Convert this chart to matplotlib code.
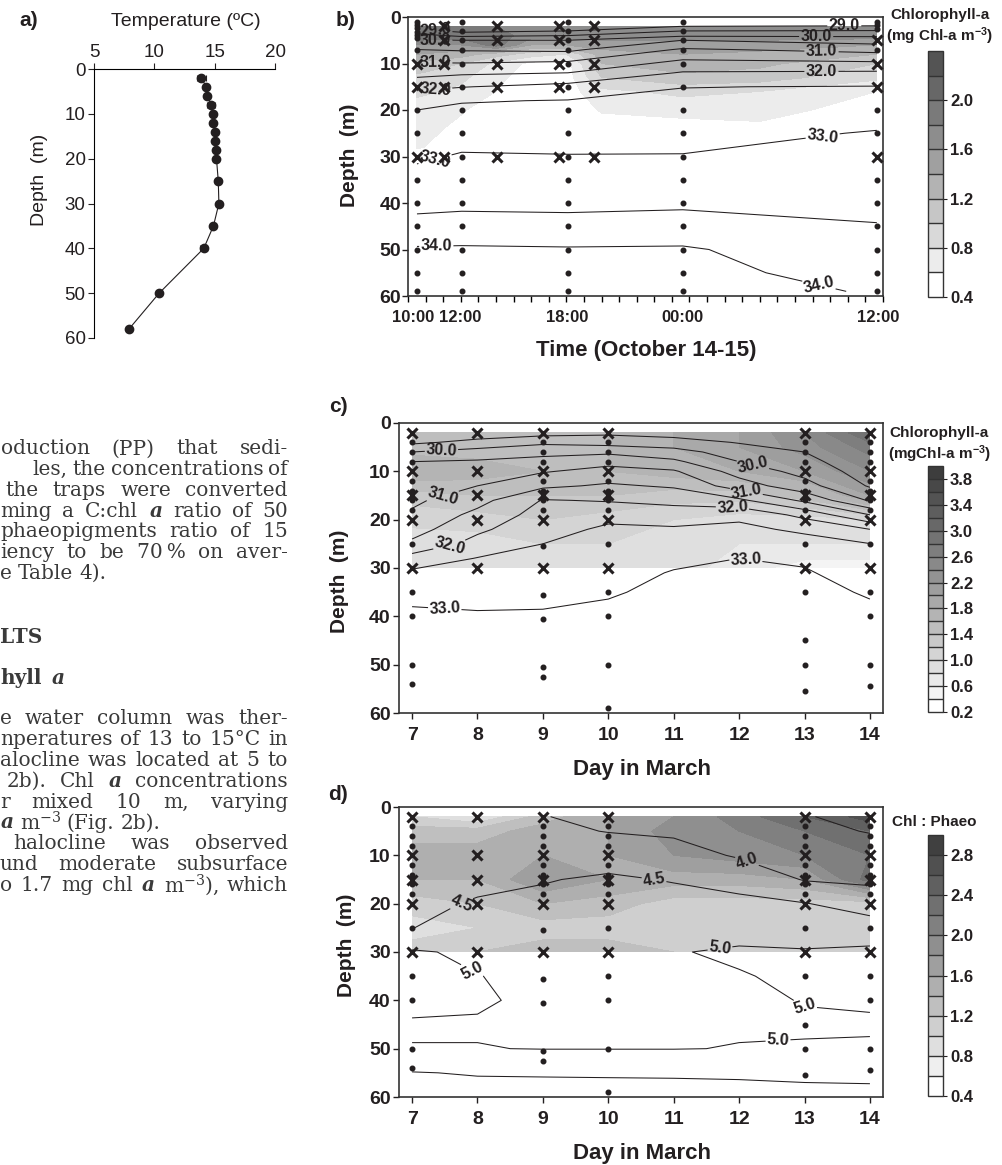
import numpy as np
import matplotlib
matplotlib.use('Agg')
import matplotlib.pyplot as plt

plt.rcParams['font.family'] = ['Liberation Sans', 'DejaVu Sans']
plt.rcParams['font.weight'] = 'bold'
plt.rcParams['axes.labelweight'] = 'bold'
plt.rcParams['mathtext.fontset'] = 'custom'
plt.rcParams['mathtext.default'] = 'regular'
plt.rcParams['mathtext.it'] = 'DejaVu Serif:italic'

# ---------------- a) temperature profile
temp_depth = [2, 4, 6, 8, 10, 12, 14, 16, 18, 20, 25, 30, 35, 40, 50, 58]
temp_mean = [13.9, 14.3, 14.4, 14.7, 14.85, 14.9, 15.0, 15.0, 15.15, 15.15, 15.3, 15.35, 14.9, 14.1, 10.4, 7.9]
temp_err = [0.35, 0.1, 0.2, 0.3, 0.15, 0.1, 0.1, 0.1, 0.1, 0.1, 0.1, 0.15, 0.2, 0.3, 0.15, 0.2]

# ---------------- b) diel station, hours after 09:00 Oct 14
b_grid_time = [0.5, 3.0, 5.0, 7.0, 9.0, 11.0, 15.6, 20.0, 26.65]
b_grid_depth = [2, 4, 6, 8, 10, 13, 16, 20, 24, 28, 30]
b_chl = [
    [2.0, 1.8, 1.8, 1.75, 1.75, 1.75, 1.75, 1.75, 1.8],
    [2.0, 1.9, 1.9, 1.7, 1.7, 1.7, 1.7, 1.7, 1.7],
    [1.6, 1.6, 1.9, 1.4, 1.4, 1.5, 1.5, 1.5, 1.4],
    [1.4, 1.3, 1.1, 0.9, 0.8, 1.3, 1.4, 1.35, 1.2],
    [1.15, 1.0, 0.75, 0.55, 0.5, 1.2, 1.3, 1.25, 1.0],
    [0.95, 0.85, 0.65, 0.5, 0.5, 1.0, 1.15, 1.1, 0.85],
    [0.85, 0.75, 0.6, 0.5, 0.5, 0.75, 0.85, 0.8, 0.6],
    [0.7, 0.62, 0.5, 0.45, 0.45, 0.62, 0.68, 0.68, 0.5],
    [0.68, 0.55, 0.45, 0.45, 0.45, 0.5, 0.5, 0.55, 0.45],
    [0.62, 0.5, 0.45, 0.45, 0.45, 0.45, 0.45, 0.45, 0.45],
    [0.5, 0.45, 0.45, 0.45, 0.45, 0.45, 0.45, 0.45, 0.45],
]
b_sal_time = [0.51, 3.05, 9.09, 15.62, 26.65]
b_sal_depth = [1, 2, 3, 4, 5, 7, 10, 12, 15, 18, 20, 25, 30, 35, 40, 45, 50, 55, 59]
b_sal = [
    [28.5, 28.4, 28.4, 28.6, 28.6],
    [28.8, 28.6, 28.7, 29.0, 29.05],
    [29.2, 28.85, 29.0, 29.5, 29.54],
    [29.7, 29.38, 29.5, 29.92, 29.92],
    [30.05, 30.0, 30.0, 30.5, 30.27],
    [30.5, 30.45, 30.4, 31.06, 30.83],
    [31.03, 31.02, 31.1, 31.66, 31.6],
    [31.31, 31.42, 31.5, 32.04, 32.08],
    [31.89, 31.98, 32.16, 32.49, 32.52],
    [32.28, 32.47, 32.52, 32.6, 32.72],
    [32.5, 32.58, 32.6, 32.67, 32.79],
    [32.72, 32.82, 32.81, 32.85, 33.03],
    [32.93, 33.04, 33.02, 33.02, 33.15],
    [33.15, 33.21, 33.2, 33.21, 33.27],
    [33.35, 33.39, 33.38, 33.41, 33.39],
    [33.67, 33.7, 33.67, 33.72, 33.52],
    [34.05, 34.06, 34.04, 34.05, 33.68],
    [34.15, 34.12, 34.12, 34.12, 33.84],
    [34.2, 34.16, 34.16, 34.16, 33.97],
]
b_ctd_time = [0.51, 3.05, 9.09, 15.62, 26.65]
b_ctd_depths = [
    [1, 1.7, 2.4, 3.2, 3.9, 4.6, 7, 20, 25, 35, 40, 45, 50, 55, 59],
    [1, 3, 5, 7, 10, 15, 20, 25, 30, 35, 40, 45, 50, 55, 59],
    [1, 3, 5, 7, 10, 15, 20, 25, 30, 35, 40, 45, 50, 55, 59],
    [1, 3, 5, 7, 10, 15, 20, 25, 30, 35, 40, 45, 50, 55, 59],
    [1, 1.8, 2.5, 7, 20, 25, 35, 40, 45, 50, 55, 59],
]
b_trap_time = [0.51, 2.04, 5.05, 8.57, 10.57, 26.65]
b_trap_depths = [
    [10, 15, 30],
    [2, 5, 10, 15, 30],
    [2, 5, 10, 15, 30],
    [2, 5, 10, 15, 30],
    [2, 5, 10, 15, 30],
    [5, 10, 15, 30],
]
b_tick_pos = [0.28, 2.95, 9.05, 15.6, 26.7]
b_tick_lab = ['10:00', '12:00', '18:00', '00:00', '12:00']

# ---------------- c), d) March survey
cd_grid_day = [7, 8, 9, 10, 11, 12, 13, 14]
cd_fill_depth = [2, 5, 10, 15, 20, 25, 30]
c_chl = [
    [1.4, 1.4, 1.5, 1.6, 1.8, 2.0, 2.4, 3.0],
    [1.5, 1.5, 1.6, 1.6, 1.8, 2.0, 2.3, 2.7],
    [1.8, 1.7, 1.6, 1.6, 1.7, 1.8, 2.0, 2.4],
    [1.3, 1.4, 1.4, 1.4, 1.3, 1.3, 1.5, 2.0],
    [1.05, 1.1, 1.2, 1.1, 1.0, 0.9, 0.9, 1.0],
    [0.9, 0.9, 1.0, 1.0, 0.9, 0.8, 0.8, 0.8],
    [0.8, 0.9, 1.0, 1.0, 0.9, 0.7, 0.5, 0.5],
]
d_ratio = [
    [1.0, 0.8, 1.3, 1.6, 1.8, 2.1, 2.4, 2.7],
    [1.3, 1.3, 1.5, 1.6, 1.9, 2.0, 2.2, 2.4],
    [1.5, 1.5, 1.6, 1.6, 1.8, 1.9, 2.0, 2.2],
    [1.4, 1.4, 1.8, 1.6, 1.5, 1.5, 1.6, 2.3],
    [1.1, 1.2, 1.4, 1.3, 1.1, 1.1, 1.1, 1.1],
    [0.9, 1.0, 1.1, 1.1, 1.0, 1.0, 1.0, 1.0],
    [1.1, 1.2, 1.3, 1.3, 1.2, 1.1, 1.1, 1.1],
]
c_sal_depth = [2, 4, 6, 8, 10, 13, 16, 19, 22, 25, 28, 31, 35, 40, 45, 50, 55, 58]
c_sal = [
    [29.2, 29.2, 29.3, 29.4, 29.3, 29.2, 29.1, 28.8],
    [29.4, 29.65, 29.9, 29.8, 29.7, 29.47, 29.3, 28.9],
    [30.0, 30.2, 30.35, 30.4, 30.2, 29.75, 29.5, 29.0],
    [30.5, 30.56, 30.67, 30.85, 30.6, 30.0, 29.67, 29.1],
    [30.6, 30.75, 30.96, 31.17, 31.06, 30.29, 29.84, 29.25],
    [30.75, 31.0, 31.4, 31.57, 31.44, 30.75, 30.18, 29.45],
    [30.9, 31.33, 32.03, 31.96, 31.86, 31.6, 30.9, 29.94],
    [31.08, 31.64, 32.2, 32.38, 32.25, 32.4, 31.85, 31.0],
    [31.3, 31.9, 32.35, 32.57, 32.56, 32.6, 32.42, 32.0],
    [31.6, 32.18, 32.5, 32.68, 32.72, 32.79, 32.67, 32.51],
    [32.2, 32.52, 32.6, 32.78, 32.89, 33.0, 32.92, 32.65],
    [32.6, 32.67, 32.73, 32.82, 33.03, 33.08, 33.05, 32.76],
    [32.85, 32.84, 32.88, 32.96, 33.1, 33.12, 33.12, 32.96],
    [33.1, 33.05, 33.05, 33.1, 33.15, 33.16, 33.17, 33.1],
    [33.2, 33.15, 33.15, 33.2, 33.2, 33.2, 33.2, 33.2],
    [33.25, 33.25, 33.25, 33.25, 33.25, 33.25, 33.25, 33.25],
    [33.3, 33.3, 33.3, 33.3, 33.3, 33.3, 33.3, 33.3],
    [33.35, 33.35, 33.35, 33.35, 33.35, 33.35, 33.35, 33.35],
]
d_temp_depth = [2, 5, 10, 15, 20, 25, 30, 35, 40, 45, 50, 55, 58]
d_temp = [
    [4.30, 4.25, 4.02, 3.85, 3.80, 3.60, 3.52, 3.40],
    [4.32, 4.28, 4.12, 3.98, 3.92, 3.75, 3.60, 3.48],
    [4.35, 4.33, 4.30, 4.35, 4.20, 3.95, 3.80, 3.70],
    [4.38, 4.42, 4.48, 4.55, 4.48, 4.35, 3.97, 3.90],
    [4.42, 4.53, 4.58, 4.65, 4.62, 4.60, 4.52, 4.30],
    [4.49, 4.75, 4.72, 4.75, 4.80, 4.85, 4.80, 4.70],
    [5.05, 4.92, 4.85, 4.85, 4.98, 5.05, 5.03, 5.10],
    [5.12, 5.01, 4.90, 4.92, 4.97, 4.98, 5.06, 5.06],
    [5.08, 5.04, 4.93, 4.94, 4.95, 4.95, 5.01, 5.03],
    [4.97, 4.97, 4.96, 4.96, 4.96, 4.97, 4.97, 4.97],
    [5.01, 5.01, 4.99, 4.99, 4.99, 5.01, 5.02, 5.03],
    [5.52, 5.47, 5.46, 5.45, 5.44, 5.43, 5.40, 5.38],
    [5.60, 5.60, 5.60, 5.60, 5.60, 5.58, 5.55, 5.54],
]
cd_ctd_day = [7, 9, 10, 13, 14]
cd_ctd_depths = [
    [4, 6, 8, 12, 14, 16, 18, 25, 35, 40, 50, 54],
    [4, 6, 8, 12, 14, 16, 18, 25.5, 35.5, 40.5, 50.5, 52.5],
    [4, 6, 8, 12, 14, 16, 18, 25, 35, 40, 50, 59],
    [4, 6, 8, 12, 14, 16, 18, 25, 35, 45, 50, 55.5],
    [4, 6, 8, 12, 14, 16, 18, 25, 35, 40, 50, 54.5],
]
cd_trap_day = [7, 8, 9, 10, 13, 14]
cd_trap_depth = [2, 10, 15, 20, 30]

# ---------------- page text (visible part of the article's left column)
# (left edge in px, text, justified?)
text_top = [
    (1, "oduction (PP) that sedi-", True),
    (32, "les, the concentrations of", True),
    (5, "the traps were converted", True),
    (0, "ming a C:chl $\\mathit{a}$ ratio of 50", True),
    (0, "phaeopigments ratio of 15", True),
    (0, "iency to be 70\u2009% on aver-", True),
    (0, "e Table 4).", False),
]
text_bottom = [
    (0, "e water column was ther-", True),
    (0, "nperatures of 13 to 15\u00b0C in", True),
    (0, "alocline was located at 5 to", True),
    (7, "2b). Chl $\\mathit{a}$ concentrations", True),
    (0, "r mixed 10 m, varying", True),
    (0, "$\\mathit{a}$ m$^{-3}$ (Fig. 2b).", False),
    (13, "halocline was observed", True),
    (0, "und moderate subsurface", True),
    (0, "o 1.7 mg chl $\\mathit{a}$ m$^{-3}$), which", True),
]

W, H = 1003, 1165
INK = '#231f20'
fig = plt.figure(figsize=(W / 100, H / 100), dpi=100)


def box(x0, y0, x1, y1):
    return fig.add_axes([x0 / W, 1 - y1 / H, (x1 - x0) / W, (y1 - y0) / H])


def ftext(x, y, s, **kw):
    kw.setdefault('color', INK)
    return fig.text(x / W, 1 - y / H, s, **kw)


def grays(n, dark):
    return [str(round(v, 3)) for v in np.linspace(1.0, dark, n)]


def iso_lines(ax, x, y, z, plain, labelled, spots):
    # unlabelled and labelled levels are drawn as two sets so clabel sees only its own levels
    X, Y = np.meshgrid(x, y)
    ax.contour(X, Y, z, levels=plain, colors=INK, linewidths=0.75)
    cs = ax.contour(X, Y, z, levels=labelled, colors=INK, linewidths=0.75)
    ax.clabel(cs, fmt='%.1f', fontsize=11.5, inline_spacing=2, manual=spots)


def station_marks(ax, ctd_x, ctd_d, trap_x, trap_d):
    for x, ds in zip(ctd_x, ctd_d):
        ax.plot([x] * len(ds), ds, 'o', ms=3.3, color=INK, zorder=5, clip_on=False)
    for x, ds in zip(trap_x, trap_d):
        ax.plot([x] * len(ds), ds, 'x', ms=6.5, mew=2.2, color=INK, zorder=6, clip_on=False)


def style_box(ax):
    for s in ax.spines.values():
        s.set_linewidth(1.2)
        s.set_color('#333333')
    ax.set_ylim(60, 0)
    ax.set_yticks(range(0, 61, 10))
    ax.tick_params(axis='y', direction='out', length=4, width=1, labelsize=14, pad=2, colors=INK)
    ax.tick_params(axis='x', direction='out', length=4, width=1, labelsize=14, pad=6, colors=INK)


def add_cbar(cf, rect, ticks):
    cax = box(*rect)
    cb = fig.colorbar(cf, cax=cax, ticks=ticks, drawedges=True)
    cb.outline.set_linewidth(1.0)
    cb.outline.set_edgecolor('#333333')
    cb.dividers.set_linewidth(1.0)
    cb.dividers.set_color('#333333')
    cax.tick_params(length=3, width=0.8, labelsize=12, pad=2, colors=INK)
    cax.set_yticklabels(['%.1f' % t for t in ticks])
    return cb


def paragraph_line(y, x0, line, justified, right=288, **kw):
    words = line.split(' ')
    texts = [ftext(x0, y, w, ha='left', **kw) for w in words]
    r = fig.canvas.get_renderer()
    widths = [t.get_window_extent(r).width for t in texts]
    space = 0.3 * kw['fontsize'] * 100 / 72
    gap = space
    if justified:
        gap = max((right - x0 - sum(widths)) / max(len(words) - 1, 1), 0.4 * space)
    x = x0
    for t, w in zip(texts, widths):
        t.set_x(x / W)
        x += w + gap


# ---- panel a
ax = box(94, 69, 275, 338)
ax.errorbar(temp_mean, temp_depth, xerr=temp_err, fmt='-o', color=INK, ms=6, lw=0.8,
            elinewidth=0.8, capsize=2, capthick=0.8)
ax.set_xlim(5, 20)
ax.set_ylim(60, 0)
ax.xaxis.tick_top()
ax.set_xticks([5, 10, 15, 20])
ax.set_yticks(range(0, 61, 10))
ax.spines[['right', 'bottom']].set_visible(False)
ax.tick_params(length=4, width=0.8, labelsize=13.5, colors=INK, pad=2)
for lbl in ax.get_xticklabels() + ax.get_yticklabels():
    lbl.set_fontweight('normal')
ftext(186, 22, 'Temperature (\u00baC)', ha='center', va='center', fontsize=14, fontweight='normal')
ftext(40, 180, 'Depth  (m)', ha='center', va='center', rotation=90, fontsize=14, fontweight='normal')
ftext(29, 21, 'a)', ha='center', va='center', fontsize=15)

# ---- panel b
ax = box(408, 17, 883, 296)
lev_b = np.round(np.arange(0.4, 2.41, 0.2), 1)
T, D = np.meshgrid(b_grid_time, b_grid_depth)
cf = ax.contourf(T, D, b_chl, levels=lev_b, colors=grays(len(lev_b) - 1, 0.33))
iso_lines(ax, b_sal_time, b_sal_depth, b_sal,
          [29.5, 30.5, 31.5, 32.5, 33.5], [29.0, 30.0, 31.0, 32.0, 33.0, 34.0],
          [(1.55, 3.4), (1.55, 6.4), (1.55, 10.5), (1.55, 15.5), (1.6, 31.5), (1.6, 47.6),
           (24.8, 1.5), (23.2, 5.4), (23.5, 7.8), (23.5, 11.0), (23.5, 23.5), (23.6, 53.7)])
station_marks(ax, b_ctd_time, b_ctd_depths, b_trap_time, b_trap_depths)
style_box(ax)
ax.set_xlim(0, 27)
ax.set_xticks(b_tick_pos, b_tick_lab)
ax.set_xticks(range(0, 28), minor=True)
ax.tick_params(axis='x', which='major', length=0, labelsize=12, pad=10)
ax.tick_params(axis='x', which='minor', direction='out', length=4, width=1)
ax.tick_params(axis='y', pad=1)
ftext(350, 155, 'Depth  (m)', ha='center', va='center', rotation=90, fontsize=15)
ftext(646, 350, 'Time (October 14-15)', ha='center', va='center', fontsize=16)
ftext(346, 20, 'b)', ha='center', va='center', fontsize=15)
add_cbar(cf, (928, 51, 943, 297), [0.4, 0.8, 1.2, 1.6, 2.0])
ftext(940, 15, 'Chlorophyll-a', ha='center', va='center', fontsize=11)
ftext(940, 36, '(mg Chl-a m$^{-3}$)', ha='center', va='center', fontsize=11)

# ---- panel c
ax = box(399, 423, 883, 713)
lev_c = np.round(np.arange(0.2, 4.01, 0.2), 1)
T, D = np.meshgrid(cd_grid_day, cd_fill_depth)
cf = ax.contourf(T, D, c_chl, levels=lev_c, colors=grays(len(lev_c) - 1, 0.24))
iso_lines(ax, cd_grid_day, c_sal_depth, c_sal,
          [29.5, 30.5, 31.5, 32.5], [30.0, 31.0, 32.0, 33.0],
          [(7.45, 5.9), (7.5, 16.5), (7.6, 27.0), (7.5, 38.3),
           (12.2, 9.3), (12.1, 14.9), (11.9, 16.8), (12.1, 28.5)])
station_marks(ax, cd_ctd_day, cd_ctd_depths, cd_trap_day, [cd_trap_depth] * len(cd_trap_day))
style_box(ax)
ax.set_xlim(6.8, 14.2)
ax.set_xticks(range(7, 15))
ftext(340, 581, 'Depth  (m)', ha='center', va='center', rotation=90, fontsize=15)
ftext(642, 770, 'Day in March', ha='center', va='center', fontsize=16)
ftext(338, 407, 'c)', ha='center', va='center', fontsize=15)
add_cbar(cf, (928, 466, 943, 712), [0.2, 0.6, 1.0, 1.4, 1.8, 2.2, 2.6, 3.0, 3.4, 3.8])
ftext(939, 433, 'Chlorophyll-a', ha='center', va='center', fontsize=11)
ftext(939, 454, '(mgChl-a m$^{-3}$)', ha='center', va='center', fontsize=11)

# ---- panel d
ax = box(399, 807, 883, 1097)
lev_d = np.round(np.arange(0.4, 3.01, 0.2), 1)
T, D = np.meshgrid(cd_grid_day, cd_fill_depth)
cf = ax.contourf(T, D, d_ratio, levels=lev_d, colors=grays(len(lev_d) - 1, 0.25))
iso_lines(ax, cd_grid_day, d_temp_depth, d_temp,
          [3.5, 5.5], [4.0, 4.5, 5.0],
          [(7.8, 21.5), (10.7, 15.0), (12.1, 12.0), (7.95, 33.0),
           (11.7, 28.5), (13.0, 41.5), (12.6, 49.5)])
station_marks(ax, cd_ctd_day, cd_ctd_depths, cd_trap_day, [cd_trap_depth] * len(cd_trap_day))
style_box(ax)
ax.set_xlim(6.8, 14.2)
ax.set_xticks(range(7, 15))
ftext(347, 945, 'Depth  (m)', ha='center', va='center', rotation=90, fontsize=15)
ftext(642, 1153, 'Day in March', ha='center', va='center', fontsize=16)
ftext(338, 794, 'd)', ha='center', va='center', fontsize=15)
add_cbar(cf, (928, 835, 943, 1096), [0.4, 0.8, 1.2, 1.6, 2.0, 2.4, 2.8])
ftext(934, 822, 'Chl : Phaeo', ha='center', va='center', fontsize=11)

# ---- article text fragment
body = dict(family='DejaVu Serif', fontsize=14.5, fontweight='normal', color='#3a3a3a', va='center')
for i, (x0, line, just) in enumerate(text_top):
    paragraph_line(449 + 20.7 * i, x0, line, just, **body)
head = dict(body, fontweight='bold', fontsize=14.5)
ftext(0, 637, 'LTS', ha='left', **head)
ftext(0, 678, 'hyll', ha='left', **head)
ftext(52, 678, 'a', ha='left', style='italic', **head)
for i, (x0, line, just) in enumerate(text_bottom):
    paragraph_line(719 + 20.8 * i, x0, line, just, **body)

fig.savefig('out.png', dpi=100)
